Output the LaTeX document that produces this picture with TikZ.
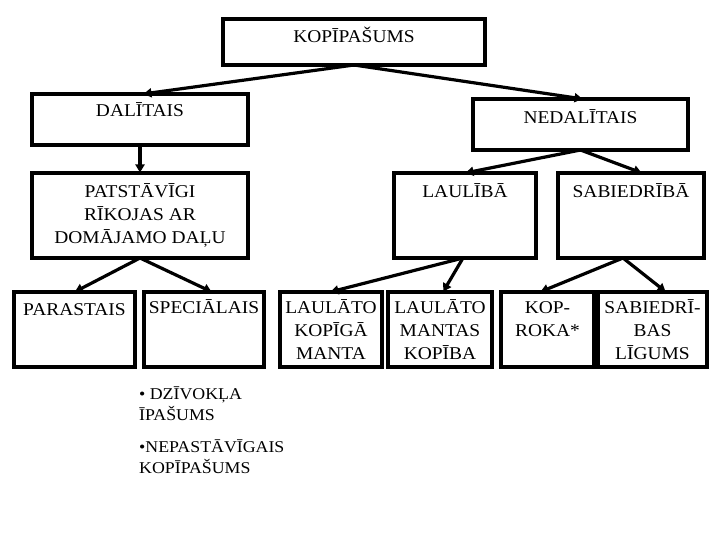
\documentclass[tikz,border=0pt]{standalone}
\usepackage{fontspec}
\setmainfont{Liberation Serif}[FakeStretch=1.08]
\usetikzlibrary{arrows.meta}
\tikzset{
  box/.style={draw=black, line width=3.4pt, inner sep=0pt, outer sep=0pt, fill=white},
  lbl/.style={anchor=north, inner sep=0pt, align=center, font=\fontsize{18}{23}\selectfont},
  note/.style={anchor=north west, inner sep=0pt, align=left, font=\fontsize{16.5}{21}\selectfont},
  conn/.style={line width=3.2pt, -{Triangle[length=8pt,width=9pt]}, shorten >=0.5pt}
}
\newcommand{\tstrut}{\rule{0pt}{16pt}}
\begin{document}
\begin{tikzpicture}[x=1pt,y=1pt]
\useasboundingbox[fill=white] (0,0) rectangle (720,-540);
% boxes
\node[box, minimum width=262pt, minimum height=46pt] (kop) at (354,-42) {};
\node[box, minimum width=216pt, minimum height=51pt] (dal) at (140,-119.5) {};
\node[box, minimum width=215pt, minimum height=51pt] (ned) at (580.5,-124.5) {};
\node[box, minimum width=216pt, minimum height=85pt] (pat) at (140,-215.5) {};
\node[box, minimum width=142pt, minimum height=85pt] (lau) at (465,-215.5) {};
\node[box, minimum width=146pt, minimum height=85pt] (sab) at (631,-215.5) {};
\node[box, minimum width=121pt, minimum height=75pt] (par) at (74.5,-329.5) {};
\node[box, minimum width=120pt, minimum height=75pt] (spe) at (204,-329.5) {};
\node[box, minimum width=102pt, minimum height=75pt] (lkm) at (331,-329.5) {};
\node[box, minimum width=104pt, minimum height=75pt] (lmk) at (440,-329.5) {};
\node[box, minimum width=93pt, minimum height=75pt] (kr) at (547.5,-329.5) {};
\node[box, minimum width=109pt, minimum height=75pt] (sl) at (652.5,-329.5) {};
% labels
\node[lbl] (kopT) at ([yshift=-7.5pt]kop.north) {\tstrut KOPĪPAŠUMS};
\node[lbl] (dalT) at ([yshift=-6pt]dal.north) {\tstrut DALĪTAIS};
\node[lbl] (nedT) at ([yshift=-8pt]ned.north) {\tstrut NEDALĪTAIS};
\node[lbl] (patT) at ([yshift=-8pt]pat.north) {\tstrut PATSTĀVĪGI\\RĪKOJAS AR\\DOMĀJAMO DAĻU};
\node[lbl] (lauT) at ([yshift=-8pt]lau.north) {\tstrut LAULĪBĀ};
\node[lbl] (sabT) at ([yshift=-8pt]sab.north) {\tstrut SABIEDRĪBĀ};
\node[lbl] (parT) at ([yshift=-7pt]par.north) {\tstrut PARASTAIS};
\node[lbl] (speT) at ([yshift=-5pt]spe.north) {\tstrut SPECIĀLAIS};
\node[lbl] (lkmT) at ([yshift=-5pt]lkm.north) {\tstrut LAULĀTO\\KOPĪGĀ\\MANTA};
\node[lbl] (lmkT) at ([yshift=-5pt]lmk.north) {\tstrut LAULĀTO\\MANTAS\\KOPĪBA};
\node[lbl] (krT) at ([yshift=-5pt]kr.north) {\tstrut KOP-\\ROKA*};
\node[lbl] (slT) at ([yshift=-5pt]sl.north) {\tstrut SABIEDRĪ-\\BAS\\LĪGUMS};
% notes
\node[note] (n1) at (139,-384) {\rule{0pt}{15pt}• DZĪVOKĻA\\ĪPAŠUMS};
\node[note] (n2) at (139,-437) {\rule{0pt}{15pt}•NEPASTĀVĪGAIS\\KOPĪPAŠUMS};
% connectors
\draw[conn] (kop.south) -- ([xshift=3pt]dal.north);
\draw[conn] (kop.south) -- ([xshift=2.5pt]ned.north);
\draw[conn] (dal.south) -- (pat.north);
\draw[conn] (ned.south) -- (lau.north);
\draw[conn] (ned.south) -- ([xshift=11pt]sab.north);
\draw[conn] (pat.south) -- (par.north);
\draw[conn] (pat.south) -- ([xshift=8pt]spe.north);
\draw[conn] ([xshift=-2pt]lau.south) -- ([xshift=-1pt]lkm.north);
\draw[conn] ([xshift=-2pt]lau.south) -- ([xshift=3pt]lmk.north);
\draw[conn] ([xshift=-8pt]sab.south) -- ([xshift=-7.5pt]kr.north);
\draw[conn] ([xshift=-8pt]sab.south) -- ([xshift=13.5pt]sl.north);
\end{tikzpicture}
\end{document}
